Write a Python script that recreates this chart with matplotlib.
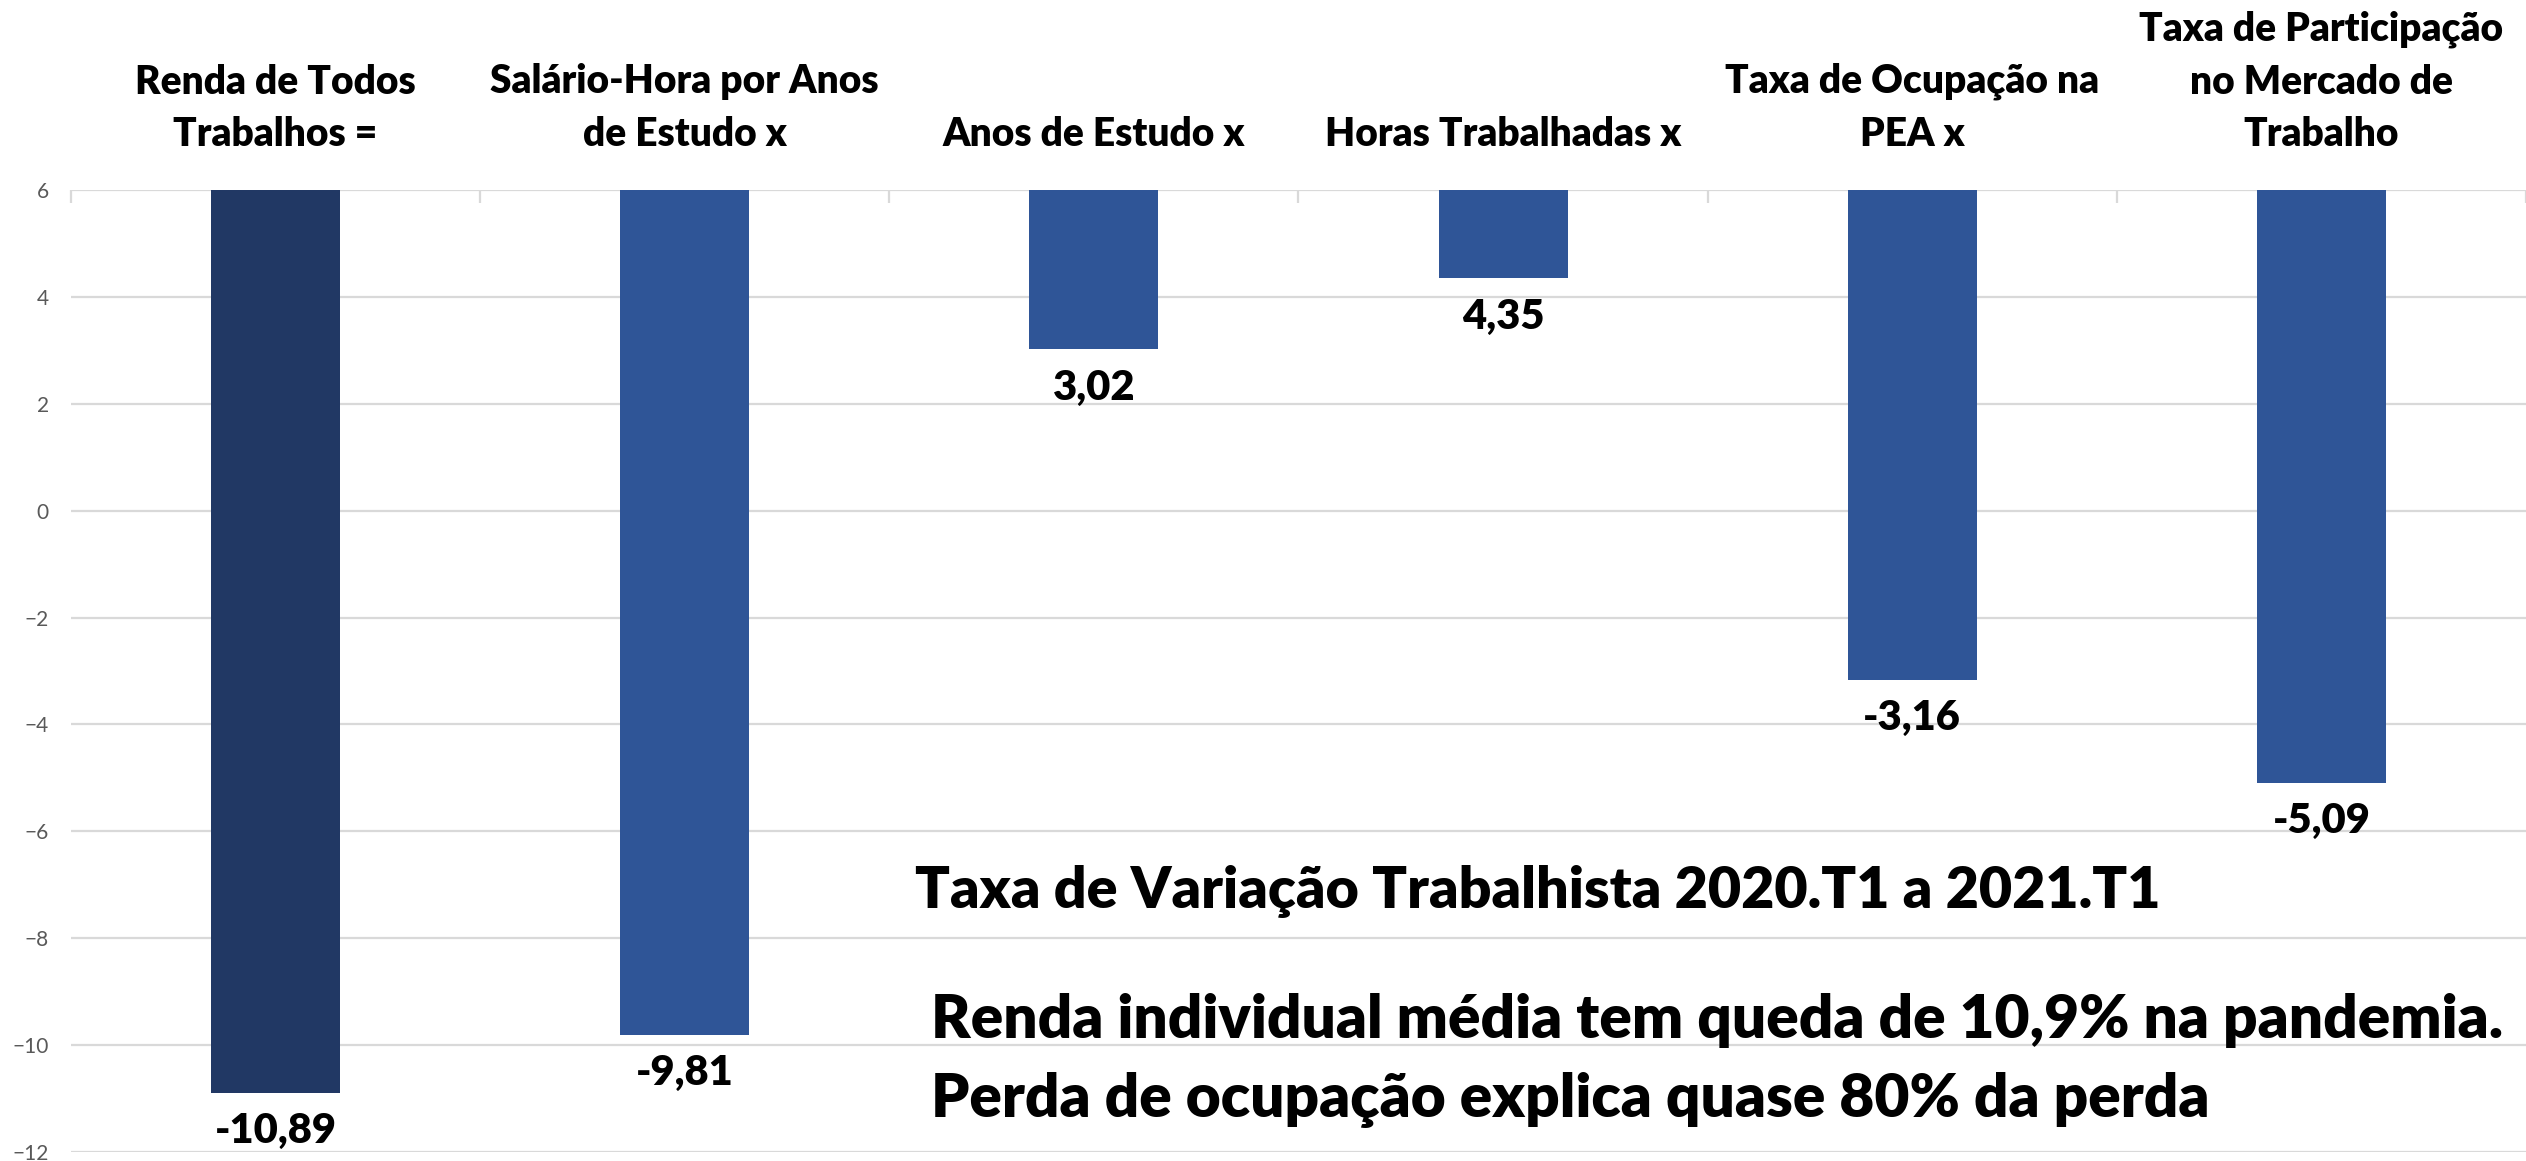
import numpy as np
import matplotlib
matplotlib.use('Agg')
from matplotlib import pyplot as plt

plt.rcParams['font.family'] = ['Lato', 'DejaVu Sans']

categories = ['Renda de Todos\nTrabalhos =',
              'Salário-Hora por Anos\nde Estudo x',
              'Anos de Estudo x',
              'Horas Trabalhadas x',
              'Taxa de Ocupação na\nPEA x',
              'Taxa de Participação\nno Mercado de\nTrabalho']
values = [-10.89, -9.81, 3.02, 4.35, -3.16, -5.09]
bar_colors = ['#213864', '#2F5597', '#2F5597', '#2F5597', '#2F5597', '#2F5597']
yticks = list(range(-12, 7, 2))
top = 6  # bars hang from the top of the axis

title = 'Taxa de Variação Trabalhista 2020.T1 a 2021.T1'
note1 = 'Renda individual média tem queda de 10,9% na pandemia.'
note2 = 'Perda de ocupação explica quase 80% da perda'

W, H = 2526, 1161
fig = plt.figure(figsize=(W / 100, H / 100), dpi=100)
ax = fig.add_axes([71 / W, 9 / H, 1 - 71 / W, (1152 - 190) / H])

x = np.arange(len(values))
bars = ax.bar(x, np.array(values) - top, bottom=top, width=0.315,
              color=bar_colors, zorder=2)
ax.bar_label(bars, labels=[f'{v:.2f}'.replace('.', ',') for v in values],
             padding=14, fontsize=30, fontweight='heavy', color='black')

ax.set_xlim(-0.5, len(values) - 0.5)
ax.set_ylim(yticks[0], yticks[-1])
ax.set_yticks(yticks)
ax.grid(axis='y', color='#D9D9D9', lw=1.6, zorder=0)
for s in ax.spines.values():
    s.set_visible(False)

# category names above the plot
ax.xaxis.tick_top()
ax.set_xticks(x, categories, fontsize=28, fontweight='heavy')
for lab in ax.get_xticklabels():
    lab.set_linespacing(1.5)
ax.tick_params(axis='x', which='major', length=0, pad=27)
ax.set_xticks(np.arange(-0.5, len(values), 1), minor=True)
ax.tick_params(axis='x', which='minor', direction='in', length=9, width=1.6,
               color='#D9D9D9', top=True, bottom=False)
ax.tick_params(axis='y', length=0, pad=16, labelsize=15, labelcolor='#595959')

fig.text(915 / W, 1 - 891 / H, title, fontsize=41.3, fontweight='heavy', va='center')
fig.text(931 / W, 1 - 1021 / H, note1, fontsize=43.5, fontweight='heavy', va='center')
fig.text(931 / W, 1 - 1100 / H, note2, fontsize=43.5, fontweight='heavy', va='center')

fig.savefig('out.png', dpi=100)
